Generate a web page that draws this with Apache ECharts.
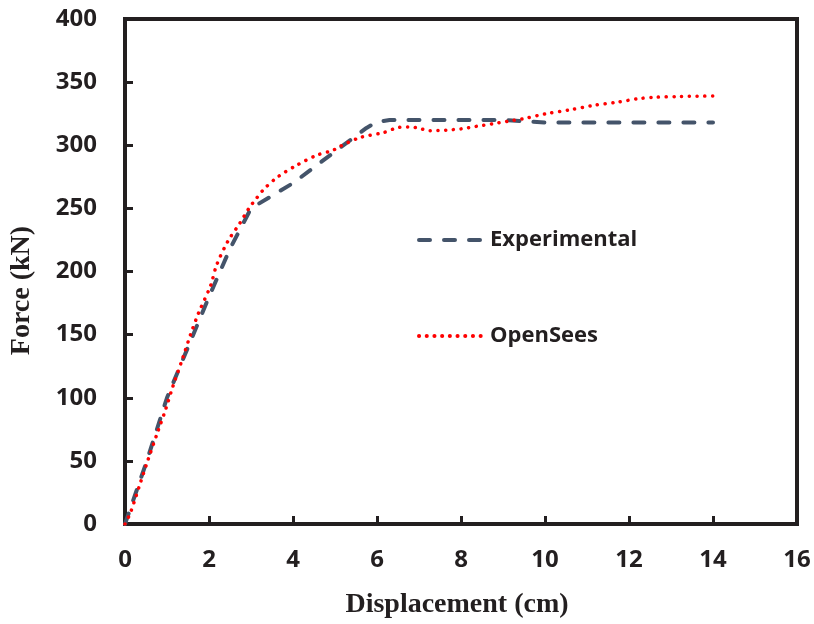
<!DOCTYPE html>
<html>
<head>
<meta charset="utf-8">
<script src="https://cdn.jsdelivr.net/npm/echarts@6/dist/echarts.min.js"></script>
<style>html,body{margin:0;padding:0;background:#fff}#c{width:814px;height:624px}</style>
</head>
<body>
<div id="c"></div>
<script>
const expX = [0, 0.5, 1, 1.5, 2, 2.5, 3, 4, 5, 5.75, 6, 6.3, 9, 10, 14];
const expY = [0, 48, 100, 140, 180, 218, 250, 270, 295, 313.7, 318.5, 320, 320, 318, 318];
const opsX = [0, 0.13, 0.37, 0.55, 0.79, 0.97, 1.14, 1.38, 1.56, 1.75, 2.04, 2.18, 2.45, 2.73, 2.95, 3.13, 3.33, 3.64, 4.08, 4.56, 4.95, 5.11, 5.59, 6.15, 6.5, 6.75, 7.0, 7.25, 7.65, 8.01, 8.37, 8.76, 9.12, 9.48, 10.03, 10.59, 11.14, 11.7, 12.25, 12.61, 13.2, 14];
const opsY = [0, 9, 33, 51, 74, 91, 109, 132, 150, 167, 189, 205, 224, 238, 250, 258, 266, 275, 284, 292, 296, 299, 306, 310, 314, 314.5, 313.5, 311.5, 312, 313, 315, 317, 319, 321, 325, 328, 331.5, 334, 337, 338, 338.6, 339];
const xTicks = {min: 0, max: 16, interval: 2};
const yTicks = {min: 0, max: 400, interval: 50};
const seriesNames = ['Experimental', 'OpenSees'];

const zip = (a, b) => a.map((v, i) => [v, b[i]]);
const chart = echarts.init(document.getElementById('c'), null, {renderer: 'canvas'});
const lblFont = {fontFamily: 'Open Sans', fontWeight: 'bold', fontSize: 24, color: '#231f20'};
const nameFont = {fontFamily: 'Liberation Serif', fontWeight: 'bold', fontSize: 28, color: '#231f20'};
chart.setOption({
  animation: false,
  backgroundColor: '#fff',
  grid: {left: 125, right: 17, top: 19, bottom: 100, show: true, borderColor: '#231f20', borderWidth: 4},
  xAxis: {
    type: 'value', min: xTicks.min, max: xTicks.max, interval: xTicks.interval,
    name: 'Displacement (cm)', nameLocation: 'middle', nameGap: 67,
    nameTextStyle: Object.assign({padding: [0, 8, 0, 0]}, nameFont),
    axisLine: {show: true, lineStyle: {color: '#231f20', width: 4}},
    axisTick: {show: true, inside: true, length: 8, lineStyle: {color: '#231f20', width: 3}},
    axisLabel: Object.assign({margin: 24}, lblFont),
    splitLine: {show: false}
  },
  yAxis: {
    type: 'value', min: yTicks.min, max: yTicks.max, interval: yTicks.interval,
    name: 'Force (kN)', nameLocation: 'middle', nameGap: 89, nameRotate: 90,
    nameTextStyle: Object.assign({padding: [0, 38, 0, 0]}, nameFont),
    axisLine: {show: true, lineStyle: {color: '#231f20', width: 4}},
    axisTick: {show: true, inside: true, length: 8, lineStyle: {color: '#231f20', width: 3}},
    axisLabel: Object.assign({margin: 28}, lblFont),
    splitLine: {show: false}
  },
  legend: {
    orient: 'vertical', left: 412, top: 224, itemGap: 74, itemWidth: 66, itemHeight: 14,
    itemStyle: {opacity: 0},
    lineStyle: {width: 4},
    textStyle: {fontFamily: 'Open Sans', fontWeight: 'bold', fontSize: 22, color: '#231f20'},
    data: seriesNames
  },
  series: [
    {
      name: seriesNames[0], type: 'line', data: zip(expX, expY), symbol: 'none', smooth: false,
      lineStyle: {color: '#44546a', width: 4, type: [11, 14], cap: 'round'},
      itemStyle: {color: '#44546a'}
    },
    {
      name: seriesNames[1], type: 'line', data: zip(opsX, opsY), symbol: 'none', smooth: 0.3,
      lineStyle: {color: '#ff0000', width: 3.5, type: [0.1, 7.6], cap: 'round'},
      itemStyle: {color: '#ff0000'}
    }
  ]
});
</script>
</body>
</html>
